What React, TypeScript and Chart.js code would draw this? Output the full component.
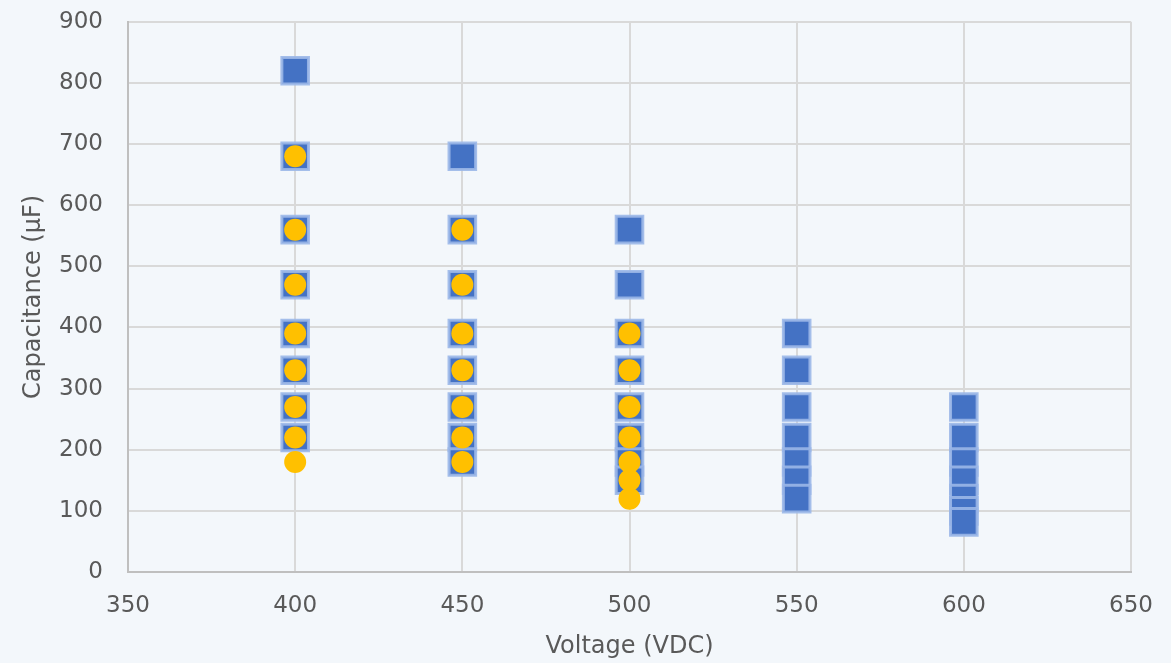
import React, { useEffect, useRef } from "react";
import { Chart, registerables } from "chart.js";

Chart.register(...registerables);

const blue400 = [820, 680, 560, 470, 390, 330, 270, 220];
const blue450 = [680, 560, 470, 390, 330, 270, 220, 180];
const blue500 = [560, 470, 390, 330, 270, 220, 180, 150];
const blue550 = [390, 330, 270, 220, 180, 150, 120];
const blue600 = [270, 220, 180, 150, 120, 100, 82];

const yellow400 = [680, 560, 470, 390, 330, 270, 220, 180];
const yellow450 = [560, 470, 390, 330, 270, 220, 180];
const yellow500 = [390, 330, 270, 220, 180, 150, 120];

const xTitle = "Voltage (VDC)";
const yTitle = "Capacitance (µF)";

const BG = "#F3F7FB";
const TEXT = "#595959";
const FONT = "'DejaVu Sans', sans-serif";

function pts(x: number, ys: number[]) {
  return ys.map((y) => ({ x, y }));
}

export default function App() {
  const ref = useRef<HTMLCanvasElement | null>(null);
  useEffect(() => {
    document.body.style.margin = "0";
    document.body.style.background = BG;
    const blue = [
      ...pts(400, blue400),
      ...pts(450, blue450),
      ...pts(500, blue500),
      ...pts(550, blue550),
      ...pts(600, blue600),
    ];
    const yellow = [
      ...pts(400, yellow400),
      ...pts(450, yellow450),
      ...pts(500, yellow500),
    ];
    const chart = new Chart(ref.current!, {
      type: "scatter",
      data: {
        datasets: [
          {
            label: "Series 2",
            data: yellow,
            pointStyle: "circle",
            pointRadius: 11,
            pointHoverRadius: 11,
            backgroundColor: "#FFC000",
            borderColor: "#FFC000",
            borderWidth: 0,
          },
          {
            label: "Series 1",
            data: blue,
            pointStyle: "rect",
            pointRadius: 18.8,
            pointHoverRadius: 18.8,
            backgroundColor: "#4472C4",
            borderColor: "rgba(155,183,232,0.9)",
            borderWidth: 3,
          },
        ],
      },
      options: {
        animation: false,
        responsive: false,
        maintainAspectRatio: false,
        layout: { padding: { top: 0, right: 0, left: 10, bottom: 0 } },
        plugins: { legend: { display: false }, tooltip: { enabled: false } },
        scales: {
          x: {
            type: "linear",
            min: 350,
            max: 650,
            ticks: { stepSize: 50, color: TEXT, font: { family: FONT, size: 23 }, padding: 20 },
            grid: { color: "#D9D9D9", lineWidth: 2, drawTicks: false },
            border: { display: true, color: "#BFBFBF", width: 2 },
            title: { display: true, text: xTitle, color: TEXT, font: { family: FONT, size: 24 }, padding: { top: 12, bottom: 2 } },
            afterFit: (s: any) => {
              s.height = 91;
              s.paddingRight = 40;
            },
          },
          y: {
            min: 0,
            max: 900,
            ticks: { stepSize: 100, color: TEXT, font: { family: FONT, size: 23 }, padding: 25 },
            grid: { color: "#D9D9D9", lineWidth: 2, drawTicks: false },
            border: { display: true, color: "#BFBFBF", width: 2 },
            title: { display: true, text: yTitle, color: TEXT, font: { family: FONT, size: 24 }, padding: { top: 9, bottom: 11 } },
            afterFit: (s: any) => {
              s.paddingTop = 19;
              s.width = 118;
            },
          },
        },
      },
    });
    return () => chart.destroy();
  }, []);
  return (
    <div style={{ width: 1171, height: 663, background: BG }}>
      <canvas ref={ref} width={1171} height={663} style={{ display: "block" }} />
    </div>
  );
}
